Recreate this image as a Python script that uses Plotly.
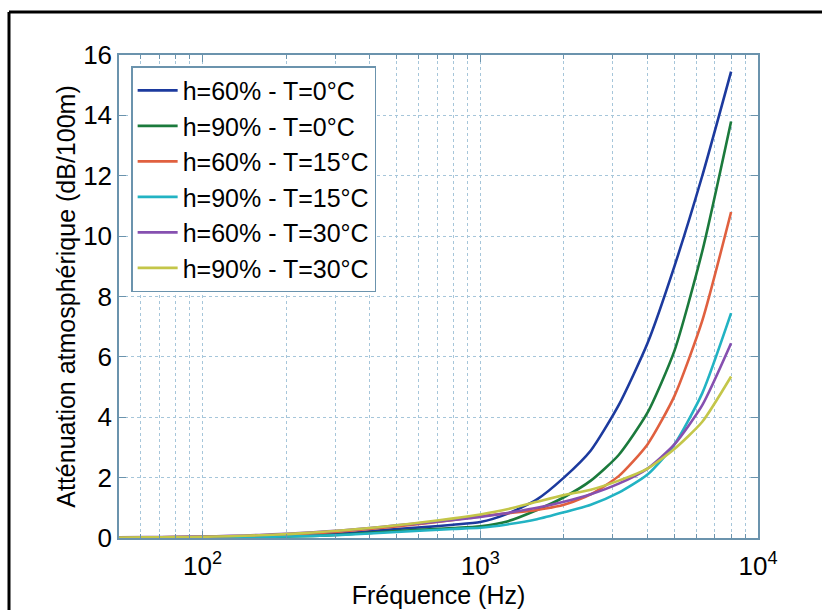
import plotly.graph_objects as go

freq = [50, 63, 80, 100, 125, 160, 200, 250, 315, 400, 500, 630, 800, 1000,
        1250, 1600, 2000, 2500, 3150, 4000, 5000, 6300, 8000]

h60_T0 = [0.01, 0.015, 0.02, 0.03, 0.04, 0.05, 0.07, 0.10, 0.15, 0.22, 0.30, 0.36, 0.44, 0.53,
          0.80, 1.28, 2.0, 2.9, 4.4, 6.45, 9.0, 12.0, 15.45]
h90_T0 = [0.01, 0.012, 0.015, 0.02, 0.03, 0.04, 0.05, 0.07, 0.11, 0.17, 0.23, 0.28, 0.33, 0.39,
          0.55, 0.93, 1.35, 1.9, 2.75, 4.15, 6.2, 9.5, 13.8]
h60_T15 = [0.015, 0.02, 0.03, 0.04, 0.05, 0.07, 0.10, 0.15, 0.22, 0.30, 0.38, 0.48, 0.60, 0.72,
           0.82, 0.93, 1.1, 1.45, 2.05, 3.1, 4.7, 7.2, 10.8]
h90_T15 = [0.008, 0.01, 0.013, 0.018, 0.025, 0.035, 0.05, 0.07, 0.10, 0.15, 0.20, 0.25, 0.30, 0.34,
           0.45, 0.62, 0.85, 1.1, 1.5, 2.1, 3.1, 4.8, 7.45]
h60_T30 = [0.02, 0.03, 0.04, 0.05, 0.07, 0.10, 0.14, 0.19, 0.25, 0.33, 0.42, 0.50, 0.60, 0.70,
           0.83, 1.0, 1.2, 1.45, 1.8, 2.3, 3.1, 4.4, 6.45]
h90_T30 = [0.015, 0.02, 0.03, 0.04, 0.06, 0.09, 0.13, 0.18, 0.25, 0.33, 0.42, 0.53, 0.65, 0.78,
           0.95, 1.2, 1.42, 1.6, 1.9, 2.3, 2.95, 3.85, 5.35]

series_names = ["h=60% - T=0°C", "h=90% - T=0°C", "h=60% - T=15°C",
                "h=90% - T=15°C", "h=60% - T=30°C", "h=90% - T=30°C"]
series_values = [h60_T0, h90_T0, h60_T15, h90_T15, h60_T30, h90_T30]
colors = ["#1c3a9e", "#1b7a3c", "#e0603f", "#22b3c3", "#8650b0", "#c4c649"]

x_major_ticks = [100, 1000, 10000]
x_major_text = ["10<sup>2</sup>", "10<sup>3</sup>", "10<sup>4</sup>"]
x_minor_ticks = [60, 70, 80, 90, 200, 300, 400, 500, 600, 700, 800, 900,
                 2000, 3000, 4000, 5000, 6000, 7000, 8000, 9000]
y_ticks = [0, 2, 4, 6, 8, 10, 12, 14, 16]

FONT = "Liberation Sans, Arial, sans-serif"
AXC = "#6b93ad"
GRIDC = "#a6c6da"

fig = go.Figure()
for name, vals, c in zip(series_names, series_values, colors):
    fig.add_trace(go.Scatter(x=freq, y=vals, mode="lines", name=name,
                             line=dict(color=c, width=2.6, shape="spline", smoothing=0.6)))

fig.update_layout(
    width=822, height=610,
    margin=dict(l=119, r=64, t=55, b=72, autoexpand=False),
    paper_bgcolor="white", plot_bgcolor="white",
    font=dict(family=FONT, color="black"),
    showlegend=True,
    legend=dict(x=0.019, y=0.977, xanchor="left", yanchor="top",
                bgcolor="white", bordercolor=AXC, borderwidth=1.5,
                font=dict(size=25, family=FONT, color="black"),
                tracegroupgap=0, itemwidth=40),
    xaxis=dict(type="log", range=[1.699, 4.0], automargin=False,
               tickmode="array", tickvals=x_major_ticks, ticktext=x_major_text,
               tickfont=dict(size=26), ticks="inside", ticklen=7, tickcolor=AXC,
               showline=True, linecolor=AXC, linewidth=1.5, mirror="ticks",
               showgrid=True, gridcolor=GRIDC, griddash="dot", gridwidth=1,
               ticklabelstandoff=4,
               minor=dict(tickmode="array", tickvals=x_minor_ticks, ticks="inside",
                          ticklen=4, tickcolor=AXC, showgrid=True,
                          gridcolor=GRIDC, griddash="dot", gridwidth=1),
               title=dict(text="Fréquence (Hz)", font=dict(size=25), standoff=0),
               zeroline=False),
    yaxis=dict(range=[0, 16], automargin=False, tickmode="array", tickvals=y_ticks,
               tickfont=dict(size=26), ticks="inside", ticklen=7, tickcolor=AXC,
               showline=True, linecolor=AXC, linewidth=1.5, mirror="ticks",
               showgrid=True, gridcolor=GRIDC, griddash="dot", gridwidth=1,
               title=dict(text="Atténuation atmosphérique (dB/100m)",
                          font=dict(size=25), standoff=0),
               zeroline=False),
)

# outer black frame (top and left edges visible)
fx = (9 - 119) / 639
fy = (538 - 12) / 483
fig.add_shape(type="line", xref="paper", yref="paper", x0=fx, x1=fx, y0=-0.3, y1=fy,
              line=dict(color="black", width=3))
fig.add_shape(type="line", xref="paper", yref="paper", x0=fx, x1=1.3, y0=fy, y1=fy,
              line=dict(color="black", width=3))

fig.write_html("out.html", config={"displayModeBar": False},
               post_script="document.body.style.margin='0px';document.body.style.overflow='hidden';")
